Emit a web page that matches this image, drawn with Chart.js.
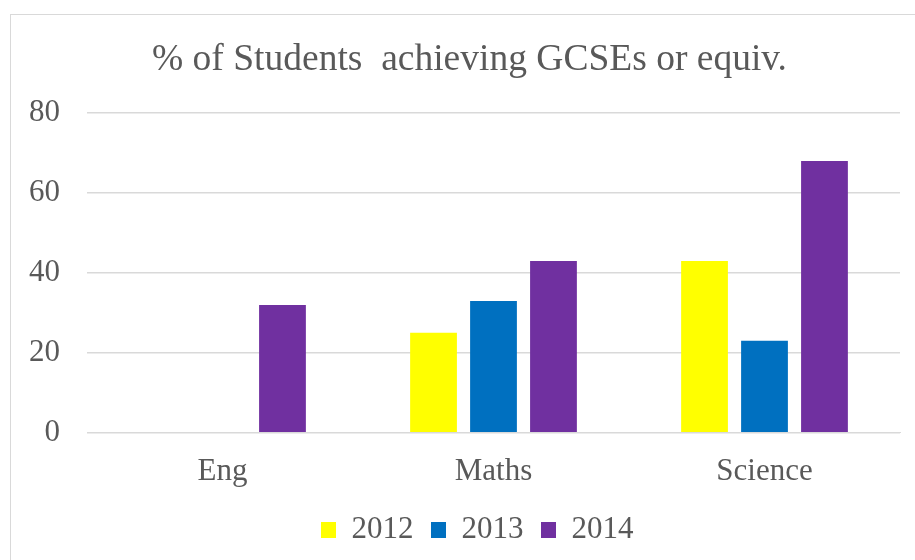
<!DOCTYPE html>
<html>
<head>
<meta charset="utf-8">
<script src="https://cdn.jsdelivr.net/npm/chart.js@4.4.1/dist/chart.umd.min.js"></script>
<style>
  body { margin: 0; background: #fff; overflow: hidden; }
  #box {
    position: absolute; left: 10px; top: 14px;
    width: 918px; height: 546px;
    border: 1px solid #d9d9d9;
  }
</style>
</head>
<body>
<div id="box"><canvas id="myChart"></canvas></div>
<script>
const categories = ["Eng", "Maths", "Science"];
const years = ["2012", "2013", "2014"];
const values2012 = [0, 25, 43];
const values2013 = [0, 33, 23];
const values2014 = [32, 43, 68];
const yTicks = [0, 20, 40, 60, 80];

const colours = ["#FFFF00", "#0070C0", "#7030A0"];
const textColour = "#595959";
const serif = "'Liberation Serif', 'Times New Roman', serif";

const data = {
    labels: categories,
    datasets: [values2012, values2013, values2014].map((vals, i) => ({
        label: years[i],
        data: vals,
        backgroundColor: colours[i],
        borderWidth: 0,
        categoryPercentage: 0.664,
        barPercentage: 0.78
    }))
};

// small nudges: legend items spaced wider than they are tall, title a bit right of centre
const nudge = {
    id: 'nudge',
    beforeLayout(chart) {
        chart.legend.options.labels.padding = 10;
    },
    afterLayout(chart) {
        const lg = chart.legend;
        lg.options.labels.padding = 17.5;
        lg.left += 1.5; lg.right += 1.5;
        lg.top -= 5; lg.bottom -= 5;
        chart.titleBlock.left += 5;
        chart.titleBlock.right += 5;
    }
};

new Chart(document.getElementById('myChart'), {
    type: 'bar',
    data: data,
    plugins: [nudge],
    options: {
        responsive: true,
        maintainAspectRatio: false,
        animation: false,
        layout: { padding: { left: 18, right: 29, bottom: 8 } },
        plugins: {
            title: {
                display: true,
                text: "% of Students  achieving GCSEs or equiv.",
                color: textColour,
                font: { family: serif, size: 37.5, weight: 'normal' },
                padding: { top: 23, bottom: 30 }
            },
            legend: {
                position: 'bottom',
                labels: {
                    color: textColour,
                    font: { family: serif, size: 31 },
                    boxWidth: 15,
                    boxHeight: 16,
                    padding: 10
                }
            },
            tooltip: { enabled: false }
        },
        scales: {
            x: {
                grid: { display: false },
                border: { color: "#d9d9d9", width: 1 },
                ticks: {
                    color: textColour,
                    font: { family: serif, size: 31 },
                    padding: 12
                }
            },
            y: {
                min: yTicks[0],
                max: yTicks[yTicks.length - 1],
                afterBuildTicks: (axis) => { axis.ticks = yTicks.map(v => ({ value: v })); },
                afterFit: (axis) => { axis.width = 58; },
                grid: { color: "#d9d9d9", lineWidth: 1.5, drawTicks: false },
                border: { display: false },
                ticks: {
                    color: textColour,
                    font: { family: serif, size: 31 },
                    padding: 27
                }
            }
        }
    }
});
</script>
</body>
</html>
